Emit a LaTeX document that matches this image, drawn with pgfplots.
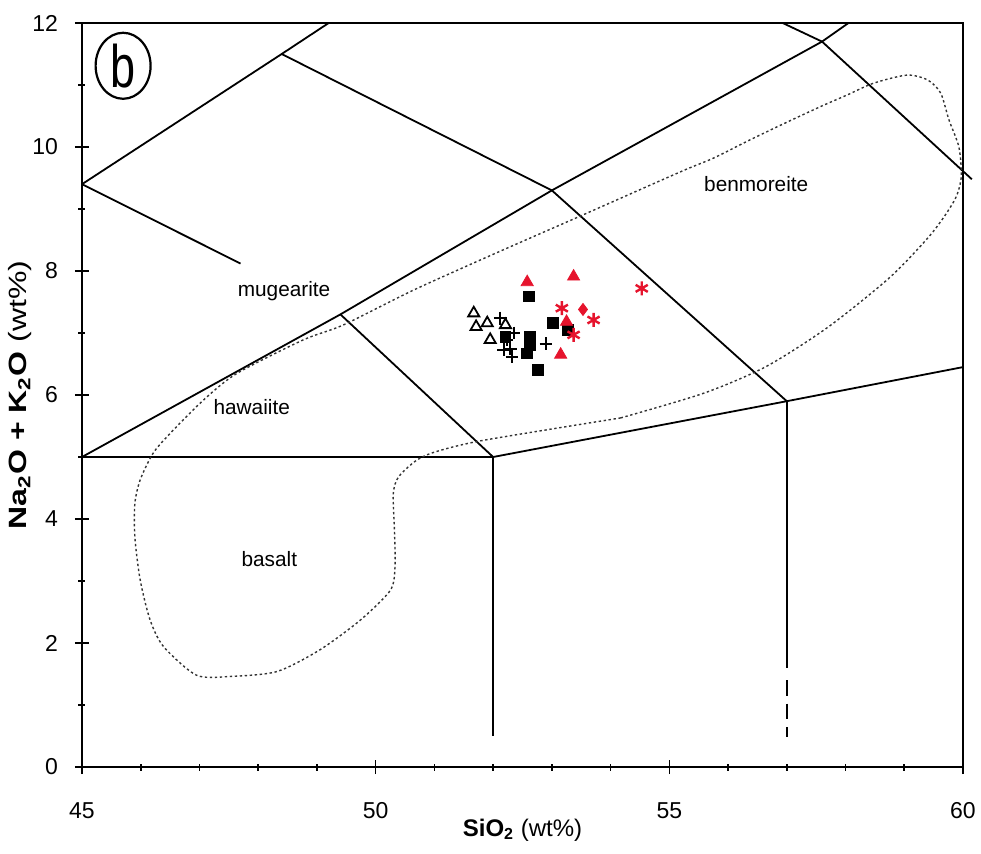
\documentclass[border=0pt]{standalone}
\usepackage{fontspec}
\setmainfont{Liberation Sans}
\usepackage{graphicx}
\usepackage{pgfplots}
\pgfplotsset{compat=1.18}
\usetikzlibrary{shapes.geometric}
\definecolor{myred}{RGB}{230,20,45}
\begin{document}
\begin{tikzpicture}
\begin{axis}[name=ax, scale only axis, width=440.5pt, height=372pt,
  xmin=45, xmax=60, ymin=0, ymax=12, clip=false,
  axis line style={line width=1pt},
  xtick={45,50,55,60}, ytick={0,2,4,6,8,10,12},
  minor x tick num=4, minor y tick num=1,
  xtick pos=bottom, ytick pos=left, tick align=center,
  major tick length=7pt, minor tick length=3.5pt,
  every tick/.style={black, line width=0.8pt},
  /pgf/number format/assume math mode=true,
  tick label style={font=\fontsize{11.5}{13}\selectfont},
  xticklabel style={anchor=center, yshift=-18.5pt},
  yticklabel style={anchor=east, xshift=-5pt},
  xlabel={\textbf{SiO\textsubscript{2}} (wt\%)},
  xlabel style={at={(axis description cs:0.5,-0.0847)}, anchor=center, font=\fontsize{12}{13}\selectfont},
  ylabel={\scalebox{1.28}[1]{\textbf{Na\textsubscript{2}O + K\textsubscript{2}O} (wt\%)}},
  ylabel style={at={(axis description cs:-0.0704,0.5)}, anchor=center, rotate=0, font=\fontsize{12.5}{13}\selectfont},
]
% TAS boundaries
\addplot[black, line width=0.9pt] coordinates {(45,5) (52,5) (57,5.9) (60,6.45)};
\addplot[black, line width=0.9pt] coordinates {(45,5) (49.4,7.3) (53,9.3) (57.6,11.7) (58.05,12)};
\addplot[black, line width=0.9pt] coordinates {(49.4,7.3) (52,5)};
\addplot[black, line width=0.9pt] coordinates {(53,9.3) (57,5.9)};
\addplot[black, line width=0.9pt] coordinates {(57,5.9) (57,1.6)};
\addplot[black, line width=0.9pt, dash pattern=on 7.75pt off 4pt] coordinates {(57,1.40) (57,0.49)};
\addplot[black, line width=0.9pt] coordinates {(52,5) (52,0.5)};
\addplot[black, line width=0.9pt] coordinates {(45,9.4) (47.7,8.12)};
\addplot[black, line width=0.9pt] coordinates {(45,9.4) (48.4,11.5) (49.2,12)};
\addplot[black, line width=0.9pt] coordinates {(48.4,11.5) (53,9.3)};
\addplot[black, line width=0.9pt] coordinates {(56.93,12) (57.6,11.7) (60.15,9.48)};
% field envelope
\addplot[black!80, line width=0.7pt, dash pattern=on 1.2pt off 1.3pt, smooth, tension=0.45] coordinates {
(54.17,5.63) (55.59,6.03) (56.65,6.46) (57.71,7.10) (58.77,7.91) (59.47,8.61) (59.86,9.15)
(59.97,9.52) (59.93,10.0) (59.76,10.44) (59.62,10.87) (59.40,11.08) (59.05,11.16)
(58.48,11.03) (58.03,10.84) (57.57,10.65) (56.89,10.35) (56.32,10.09) (55.75,9.82)
(55.19,9.6) (53.47,8.88) (52.05,8.29) (50.64,7.69) (49.45,7.13) (48.77,6.89) (47.64,6.35)
(47.07,5.92) (46.5,5.38) (46.21,5.06) (45.99,4.63) (45.9,4.25) (45.9,3.71) (45.99,3.02)
(46.16,2.37) (46.39,1.94) (46.95,1.48) (47.52,1.46) (48.32,1.54) (49.05,1.89) (49.74,2.37)
(50.25,2.85) (50.33,3.23) (50.32,3.82) (50.30,4.41) (50.39,4.68) (50.70,4.95) (51.04,5.09)
(51.84,5.27) (54.17,5.63)};
% data
\addplot[only marks, mark=square*, mark size=2.7pt, black] coordinates {
(52.61,7.59) (53.02,7.16) (53.27,7.05) (52.63,6.94) (52.63,6.81) (52.58,6.67) (52.76,6.40) (52.21,6.94)};
\addplot[only marks, mark=triangle, mark size=3.2pt, black, line width=0.9pt] coordinates {
(51.67,7.32) (51.71,7.10) (51.90,7.16) (51.95,6.89) (52.21,7.13)};
\addplot[only marks, mark=+, mark size=3.2pt, black, line width=1pt] coordinates {
(52.12,7.24) (52.35,7.0) (52.29,6.75) (52.32,6.62) (52.90,6.83) (52.18,6.73) (52.23,6.89)};
\addplot[only marks, mark=triangle*, mark size=3.5pt, myred] coordinates {
(52.58,7.82) (53.37,7.91) (53.25,7.18) (53.15,6.65)};
\addplot[only marks, mark=asterisk, mark size=3.5pt, myred, line width=1.2pt] coordinates {
(54.53,7.72) (53.17,7.40) (53.71,7.21) (53.37,6.97)};
\addplot[only marks, mark=diamond*, mark size=3pt, myred] coordinates {(53.53,7.38)};
% labels
\node[font=\fontsize{10.4}{12}\selectfont] at (axis cs:48.44,7.67) {mugearite};
\node[font=\fontsize{10.4}{12}\selectfont] at (axis cs:47.89,5.81) {hawaiite};
\node[font=\fontsize{10.4}{12}\selectfont] at (axis cs:48.19,3.35) {basalt};
\node[font=\fontsize{10.4}{12}\selectfont] at (axis cs:56.48,9.41) {benmoreite};
\node[draw, ellipse, line width=1.1pt, minimum width=27.5pt, minimum height=33pt, inner sep=0pt,
  font=\fontsize{30}{30}\selectfont] at (axis cs:45.70,11.31) {\scalebox{0.75}[1]{b}};
\end{axis}
\pgfresetboundingbox
\path ([shift={(-41pt,-43pt)}]ax.south west) rectangle ([shift={(9pt,11.5pt)}]ax.north east);
\end{tikzpicture}
\end{document}
